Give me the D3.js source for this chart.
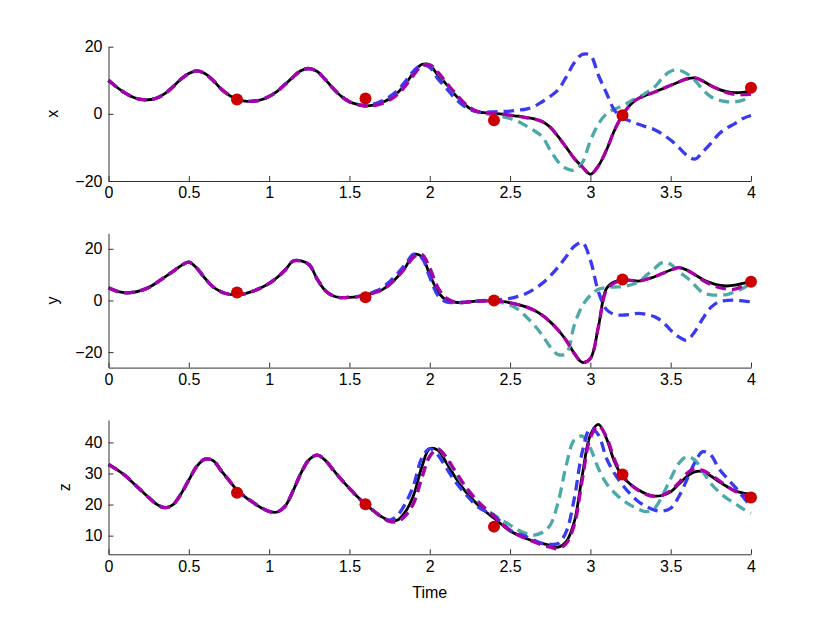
<!DOCTYPE html>
<html>
<head>
<meta charset="utf-8">
<script src="https://cdn.jsdelivr.net/npm/d3@7"></script>
<style>
  body { margin: 0; background: #fff; }
  svg { font-family: "Liberation Sans", Arial, sans-serif; }
</style>
</head>
<body>
<svg id="chart" width="830" height="625"></svg>
<script>
// sample grid: 0 to 4 in steps of 0.05
var time = d3.range(81).map(function (i) { return +(i * 0.05).toFixed(2); });
var obsTime = [0.8, 1.6, 2.4, 3.2, 4.0];

// x component
var truthX = [10.0, 8.0, 6.3, 5.0, 4.3, 4.2, 4.7, 6.0, 8.0, 10.3, 12.0, 12.8, 12.0, 10.0, 7.5, 5.6, 4.3, 3.8, 3.8, 4.2,
  5.2, 6.7, 8.8, 11.0, 12.9, 13.5, 12.6, 10.2, 7.5, 5.2, 3.6, 2.8, 2.4, 2.6, 3.3, 4.5, 6.3, 9.0, 12.3, 14.7,
  14.5, 11.5, 9.0, 6.1, 3.6, 1.6, 0.6, 0.3, 0.1, -0.1, -0.4, -0.7, -1.1, -1.5, -2.3, -4.0, -6.8, -10.0, -13.3, -15.8,
  -18.0, -15.5, -10.8, -4.9, -0.4, 2.8, 4.6, 5.6, 6.5, 7.5, 8.5, 9.5, 10.4, 10.7, 9.8, 8.4, 7.3, 6.6, 6.3, 6.4, 6.8];
var estX = [10.0, 8.0, 6.3, 5.0, 4.3, 4.2, 4.7, 6.0, 8.0, 10.3, 12.0, 12.8, 12.0, 10.0, 7.5, 5.6, 4.3, 3.8, 3.8, 4.2,
  5.2, 6.7, 8.8, 11.0, 12.9, 13.5, 12.6, 10.2, 7.5, 5.2, 3.6, 2.8, 2.3, 2.4, 3.0, 4.1, 5.8, 8.4, 11.6, 14.2,
  14.6, 12.4, 9.5, 6.6, 4.0, 1.9, 0.7, 0.3, 0.1, -0.1, -0.4, -0.7, -1.1, -1.5, -2.3, -4.0, -6.8, -10.0, -13.3, -15.8,
  -18.0, -15.5, -10.8, -4.9, -0.4, 2.8, 4.6, 5.6, 6.5, 7.5, 8.5, 9.5, 10.4, 10.7, 9.8, 8.4, 7.3, 6.3, 5.8, 5.7, 5.9];
var fcastAX = [10.0, 8.0, 6.3, 5.0, 4.3, 4.2, 4.7, 6.0, 8.0, 10.3, 12.0, 12.8, 12.0, 10.0, 7.5, 5.6, 4.3, 3.8, 3.8, 4.2,
  5.2, 6.7, 8.8, 11.0, 12.9, 13.5, 12.6, 10.2, 7.5, 5.2, 3.6, 2.8, 2.4, 2.9, 3.8, 5.1, 7.0, 9.8, 12.8, 14.6,
  13.8, 10.5, 7.8, 5.0, 2.8, 1.3, 0.6, 0.5, 0.6, 0.7, 0.8, 1.1, 1.4, 2.2, 3.6, 5.2, 7.2, 11.0, 15.2, 17.7,
  17.4, 11.5, 6.2, 1.1, -1.1, -2.2, -3.1, -3.9, -4.7, -6.1, -7.8, -10.0, -12.3, -13.5, -11.3, -8.8, -6.0, -4.2, -2.9, -1.4, -0.5];
var fcastBX = [10.0, 8.0, 6.3, 5.0, 4.3, 4.2, 4.7, 6.0, 8.0, 10.3, 12.0, 12.8, 12.0, 10.0, 7.5, 5.6, 4.3, 3.8, 3.8, 4.2,
  5.2, 6.7, 8.8, 11.0, 12.9, 13.5, 12.6, 10.2, 7.5, 5.2, 3.6, 2.8, 2.4, 2.6, 3.3, 4.5, 6.3, 9.0, 11.8, 14.3,
  14.6, 12.3, 9.3, 6.3, 3.8, 1.8, 0.6, 0.1, -0.4, -0.8, -1.4, -2.3, -3.6, -5.0, -6.8, -10.8, -14.3, -16.3, -16.8, -14.5,
  -8.0, -3.0, 0.0, 1.4, 2.4, 3.8, 4.9, 6.3, 8.0, 10.8, 12.7, 13.0, 12.0, 10.0, 7.2, 5.1, 4.1, 3.6, 3.6, 4.1, 5.3];
var obsX = [4.3, 4.6, -1.9, -0.4, 7.8];

// y component
var truthY = [4.9, 3.6, 3.0, 3.1, 3.8, 5.0, 6.9, 9.0, 11.2, 13.4, 14.8, 12.5, 8.6, 5.3, 3.4, 2.4, 2.1, 2.6, 3.6, 4.9,
  6.6, 8.9, 11.8, 15.3, 15.3, 13.8, 8.2, 3.8, 1.7, 1.1, 1.2, 1.5, 2.1, 2.9, 4.0, 6.2, 9.2, 13.0, 17.8, 17.0,
  10.0, 3.5, 0.2, -0.6, -0.8, -0.5, -0.3, -0.2, -0.1, -0.4, -0.9, -1.6, -2.5, -3.8, -5.7, -8.3, -11.5, -15.5, -20.5, -24.0,
  -22.5, -10.2, 4.6, 7.2, 7.9, 7.8, 7.5, 8.2, 9.2, 10.5, 11.8, 12.7, 11.8, 10.0, 8.1, 6.8, 5.9, 5.6, 5.9, 6.6, 7.5];
var estY = [4.9, 3.6, 3.0, 3.1, 3.8, 5.0, 6.9, 9.0, 11.2, 13.4, 14.8, 12.5, 8.6, 5.3, 3.4, 2.4, 2.1, 2.6, 3.6, 4.9,
  6.6, 8.9, 11.8, 15.3, 15.3, 13.8, 8.2, 3.8, 1.7, 1.1, 1.2, 1.5, 2.1, 2.9, 4.0, 6.2, 9.2, 12.8, 16.8, 17.8,
  12.5, 5.0, 1.0, -0.5, -0.8, -0.5, -0.3, -0.2, -0.1, -0.4, -0.9, -1.6, -2.5, -3.8, -5.7, -8.3, -11.5, -15.5, -20.5, -24.0,
  -22.5, -10.2, 4.0, 6.8, 7.8, 7.8, 7.5, 8.2, 9.2, 10.5, 11.8, 12.7, 11.8, 10.0, 7.8, 6.2, 5.0, 4.4, 4.4, 5.6, 7.2];
var fcastAY = [4.9, 3.6, 3.0, 3.1, 3.8, 5.0, 6.9, 9.0, 11.2, 13.4, 14.8, 12.5, 8.6, 5.3, 3.4, 2.4, 2.1, 2.6, 3.6, 4.9,
  6.6, 8.9, 11.8, 15.3, 15.3, 13.8, 8.2, 3.8, 1.7, 1.1, 1.2, 1.5, 2.1, 3.3, 4.7, 7.3, 10.5, 14.2, 17.9, 16.5,
  9.0, 2.0, -0.5, -0.8, -0.8, -0.5, -0.2, 0.0, 0.1, 0.4, 0.8, 1.6, 2.7, 4.4, 6.6, 9.5, 13.0, 17.0, 21.0, 22.4,
  15.6, 3.4, -3.5, -5.4, -5.7, -5.4, -5.0, -5.4, -6.3, -8.3, -11.5, -14.1, -15.4, -12.1, -7.0, -2.7, -0.5, 0.0, 0.1, -0.2, -0.5];
var fcastBY = [4.9, 3.6, 3.0, 3.1, 3.8, 5.0, 6.9, 9.0, 11.2, 13.4, 14.8, 12.5, 8.6, 5.3, 3.4, 2.4, 2.1, 2.6, 3.6, 4.9,
  6.6, 8.9, 11.8, 15.3, 15.3, 13.8, 8.2, 3.8, 1.7, 1.1, 1.2, 1.5, 2.1, 2.9, 4.0, 6.2, 9.2, 12.8, 16.8, 17.8,
  12.5, 5.0, 1.0, -0.5, -0.8, -0.5, -0.3, -0.2, -0.2, -0.9, -1.8, -3.5, -6.3, -9.5, -13.4, -18.0, -21.0, -20.5, -9.5, -2.0,
  2.0, 4.3, 5.0, 5.2, 5.3, 6.0, 7.2, 9.8, 12.4, 14.7, 14.0, 11.1, 8.9, 5.9, 3.0, 2.2, 2.1, 2.3, 3.4, 4.7, 6.6];
var obsY = [3.1, 1.2, 0.0, 8.1, 7.2];

// z component
var truthZ = [32.9, 31.3, 29.5, 27.1, 24.7, 22.3, 20.1, 19.0, 19.9, 23.3, 27.9, 32.3, 34.6, 34.2, 31.0, 27.8, 24.7, 22.5, 20.7, 19.0,
  17.8, 17.6, 19.5, 24.5, 30.3, 34.5, 35.9, 34.2, 31.1, 28.0, 25.2, 22.5, 20.1, 18.0, 16.1, 14.9, 15.0, 17.8, 23.1, 32.0,
  38.0, 37.5, 33.8, 29.5, 25.7, 22.6, 19.9, 17.6, 15.6, 13.5, 11.5, 10.2, 9.1, 8.2, 7.5, 6.8, 6.3, 8.1, 14.5, 29.5,
  42.4, 45.8, 41.3, 33.8, 29.0, 26.5, 24.7, 23.4, 22.7, 23.0, 24.1, 26.5, 29.0, 30.5, 30.6, 29.2, 27.4, 25.8, 24.4, 23.7, 23.3];
var estZ = [32.9, 31.3, 29.5, 27.1, 24.7, 22.3, 20.1, 19.0, 19.9, 23.3, 27.9, 32.3, 34.6, 34.2, 31.0, 27.8, 24.7, 22.5, 20.7, 19.0,
  17.8, 17.6, 19.5, 24.5, 30.3, 34.5, 35.9, 34.2, 31.1, 28.0, 25.2, 22.5, 20.1, 18.0, 16.0, 14.6, 14.6, 16.5, 20.5, 28.5,
  35.5, 37.8, 35.5, 31.5, 27.5, 24.0, 21.0, 18.5, 16.2, 13.8, 11.6, 10.2, 9.0, 8.0, 7.0, 6.3, 5.8, 7.5, 13.5, 28.0,
  41.5, 45.3, 41.8, 34.5, 29.4, 26.5, 24.5, 23.2, 22.6, 23.0, 24.5, 27.0, 30.0, 31.5, 31.0, 29.5, 27.8, 25.9, 24.3, 23.2, 22.5];
var fcastAZ = [32.9, 31.3, 29.5, 27.1, 24.7, 22.3, 20.1, 19.0, 19.9, 23.3, 27.9, 32.3, 34.6, 34.2, 31.0, 27.8, 24.7, 22.5, 20.7, 19.0,
  17.8, 17.6, 19.5, 24.5, 30.3, 34.5, 35.9, 34.2, 31.1, 28.0, 25.2, 22.5, 20.1, 18.0, 16.0, 15.0, 16.6, 20.5, 26.3, 34.9,
  38.0, 36.0, 32.0, 28.0, 24.7, 21.8, 19.2, 17.8, 16.6, 14.0, 11.8, 10.6, 9.7, 8.5, 7.5, 7.2, 7.5, 11.3, 22.0, 37.0,
  44.5, 42.4, 34.9, 30.0, 26.3, 23.3, 20.9, 19.3, 18.2, 17.9, 18.8, 22.5, 27.9, 33.5, 37.0, 35.9, 31.6, 28.5, 25.7, 22.5, 19.3];
var fcastBZ = [32.9, 31.3, 29.5, 27.1, 24.7, 22.3, 20.1, 19.0, 19.9, 23.3, 27.9, 32.3, 34.6, 34.2, 31.0, 27.8, 24.7, 22.5, 20.7, 19.0,
  17.8, 17.6, 19.5, 24.5, 30.3, 34.5, 35.9, 34.2, 31.1, 28.0, 25.2, 22.5, 20.1, 18.0, 16.0, 14.6, 14.6, 16.5, 20.5, 28.5,
  35.5, 38.0, 35.0, 31.0, 27.0, 23.8, 21.0, 18.5, 16.6, 15.0, 13.4, 11.8, 10.7, 10.2, 11.0, 13.4, 20.9, 32.7, 40.8, 42.0,
  38.1, 31.6, 26.8, 23.8, 21.5, 19.8, 18.5, 17.7, 18.8, 23.1, 28.4, 33.2, 35.4, 34.3, 30.6, 26.8, 24.1, 22.0, 20.4, 18.6, 17.2];
var obsZ = [23.8, 20.1, 12.9, 29.7, 22.3];

var xTicks = [0, 0.5, 1, 1.5, 2, 2.5, 3, 3.5, 4];
var panelNames = ["x", "y", "z"];
var panelTicks = [[-20, 0, 20], [-20, 0, 20], [10, 20, 30, 40]];
var panelDomains = [[-20, 20], [-26, 26], [4, 47.2]];

var panels = [
  { truth: truthX, est: estX, a: fcastAX, b: fcastBX, obs: obsX },
  { truth: truthY, est: estY, a: fcastAY, b: fcastBY, obs: obsY },
  { truth: truthZ, est: estZ, a: fcastAZ, b: fcastBZ, obs: obsZ }
];

var svg = d3.select("#chart");
svg.append("rect").attr("width", 830).attr("height", 625).attr("fill", "#fff");

var left = 108.5, right = 751, panelH = 134.3;
var panelTops = [46.7, 233.3, 420];
var labelX = [58, 58, 70];

var x = d3.scaleLinear().domain([0, 4]).range([left, right]);

function fmt(d) { return d < 0 ? "\u2212" + (-d) : String(d); }

panels.forEach(function (p, i) {
  var top = panelTops[i], bottom = top + panelH;
  var y = d3.scaleLinear().domain(panelDomains[i]).range([bottom, top]);

  var line = d3.line()
    .x(function (d, k) { return x(time[k]); })
    .y(function (d) { return y(d); })
    .curve(d3.curveCatmullRom.alpha(0.5));

  var g = svg.append("g");

  g.append("path").datum(p.truth)
    .attr("d", line).attr("fill", "none")
    .attr("stroke", "#000").attr("stroke-width", 2.8);

  var dashed = [
    { data: p.b, color: "#4ca9a8" },
    { data: p.a, color: "#3a3aee" },
    { data: p.est, color: "#ab00a8" }
  ];
  dashed.forEach(function (s) {
    g.append("path").datum(s.data)
      .attr("d", line).attr("fill", "none")
      .attr("stroke", s.color).attr("stroke-width", 3.3)
      .attr("stroke-dasharray", "10.5,6");
  });

  g.selectAll(".obs").data(p.obs).enter().append("circle")
    .attr("class", "obs")
    .attr("cx", function (d, k) { return x(obsTime[k]); })
    .attr("cy", function (d) { return y(d); })
    .attr("r", 6)
    .attr("fill", "#cc0000");

  // axes, ticks pointing inward
  var ya = svg.append("g")
    .attr("transform", "translate(" + left + ",0)")
    .call(d3.axisLeft(y).tickValues(panelTicks[i]).tickFormat(fmt)
      .tickSizeInner(-5).tickSizeOuter(0).tickPadding(6));
  var xa = svg.append("g")
    .attr("transform", "translate(0," + bottom + ")")
    .call(d3.axisBottom(x).tickValues(xTicks).tickFormat(fmt)
      .tickSizeInner(-5).tickSizeOuter(0).tickPadding(6));

  [ya, xa].forEach(function (a) {
    a.selectAll("path, line").attr("stroke", "#333");
    a.selectAll("text").attr("fill", "#000").style("font-size", "16px")
      .style("font-family", '"Liberation Sans", Arial, sans-serif');
  });

  svg.append("text")
    .attr("transform", "translate(" + labelX[i] + "," + (top + panelH / 2) + ") rotate(-90)")
    .attr("text-anchor", "middle")
    .style("font-size", "16px")
    .text(panelNames[i]);
});

svg.append("text")
  .attr("x", (left + right) / 2)
  .attr("y", 598)
  .attr("text-anchor", "middle")
  .style("font-size", "16px")
  .text("Time");
</script>
</body>
</html>
